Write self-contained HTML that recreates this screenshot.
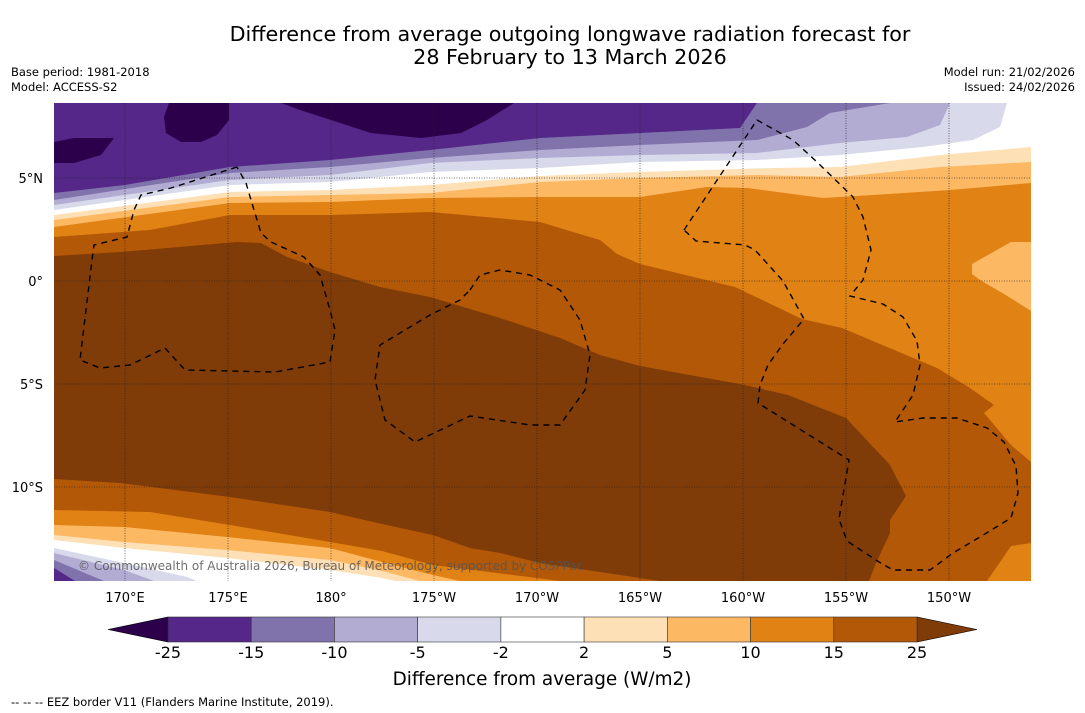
<!DOCTYPE html>
<html><head><meta charset="utf-8"><style>
html,body{margin:0;padding:0;background:#fff;}
body{width:1085px;height:713px;overflow:hidden;font-family:"DejaVu Sans","Liberation Sans",sans-serif;}
svg{display:block;}
</style></head><body>
<svg id="chart" width="1085" height="713" viewBox="0 0 1085 713" xmlns="http://www.w3.org/2000/svg" font-family="DejaVu Sans, Liberation Sans, sans-serif">
<text x="570" y="41" font-size="20.7" text-anchor="middle" fill="#000">Difference from average outgoing longwave radiation forecast for</text>
<text x="570" y="64" font-size="20.7" text-anchor="middle" fill="#000">28 February to 13 March 2026</text>
<text x="11" y="76" font-size="11.5">Base period: 1981-2018</text>
<text x="11" y="91" font-size="11.5">Model: ACCESS-S2</text>
<text x="1075" y="76" font-size="11.5" text-anchor="end">Model run: 21/02/2026</text>
<text x="1075" y="91" font-size="11.5" text-anchor="end">Issued: 24/02/2026</text>
<defs><clipPath id="mapclip"><rect x="54" y="103" width="977" height="478"/></clipPath></defs>
<g id="map" clip-path="url(#mapclip)"></g>
<g id="axes"></g>
<g id="cbar"></g>
<text x="542" y="685" font-size="18.4" text-anchor="middle">Difference from average (W/m2)</text>
<text x="11" y="706" font-size="11.5">--  --  -- EEZ border V11 (Flanders Marine Institute, 2019).</text>
</svg>
<script>
var levels = [-25,-15,-10,-5,-2,2,5,10,15,25];
var bandColors = ["#542788","#8073ac","#b2abd2","#d8daeb","#ffffff","#fee0b6","#fdb863","#e08214","#b35806"];
var underColor = "#2d004b";
var overColor = "#7f3b08";
var lonTicks = ["170°E","175°E","180°","175°W","170°W","165°W","160°W","155°W","150°W"];
var lonValues = [170,175,180,185,190,195,200,205,210];
var latTicks = ["5°N","0°","5°S","10°S"];
var latValues = [5,0,-5,-10];

var NS="http://www.w3.org/2000/svg";
function lonX(l){return 125+(l-170)*20.6;}
function latY(l){return 281-l*20.6;}
function mk(tag,attrs,parent){var e=document.createElementNS(NS,tag);for(var k in attrs)e.setAttribute(k,attrs[k]);parent.appendChild(e);return e;}
function pts(a){return a.map(function(p){return p[0]+","+p[1];}).join(" ");}

var map=document.getElementById('map');
var base=mk('rect',{x:54,y:103,width:977,height:478,fill:bandColors[0]},map);



var blobs=[
 [[54,142],[74,138],[114,138],[101,155],[74,163],[54,163]],
 [[169,103],[229,103],[229,120],[217,135],[201,142],[181,142],[166,133],[164,117]],
 [[281,103],[514,103],[487,120],[461,133],[421,138],[371,133],[331,120],[300,110]]
];
blobs.forEach(function(b){
 var p=mk('polygon',{points:pts(b),fill:underColor},map);
 
 
});

var E=1031,B=581;
var regions=[
 {c:1,top:[[54,193],[125,185],[230,167],[330,160],[430,150],[540,138],[640,133],[740,128],[757,103]],bot:[[75,581],[54,568]]},
 {c:2,top:[[54,200],[230,173],[330,167],[430,158],[540,150],[640,145],[757,140],[807,127],[830,113],[890,103]],bot:[[104,581],[54,560]]},
 {c:3,top:[[54,205],[230,180],[330,175],[430,163],[540,158],[640,155],[757,153],[840,143],[907,137],[940,125],[950,103]],bot:[[154,581],[124,570],[54,553]]},
 {c:4,top:[[54,210],[230,185],[330,182],[430,172],[540,168],[640,162],[757,160],[840,155],[923,147],[973,140],[1000,127],[1007,103]],bot:[[197,581],[187,577],[124,563],[54,548]]},
 {c:5,top:[[54,215],[230,192],[330,190],[430,185],[540,176],[640,172],[773,168],[840,167],[940,155],[1031,147]],bot:[[395,581],[382,578],[330,570],[227,558],[124,548],[54,540]]},
 {c:6,top:[[54,220],[230,197],[330,195],[430,193],[540,182],[640,178],[757,175],[840,177],[940,167],[1031,162]],bot:[[420,581],[382,571],[330,560],[227,550],[124,542],[54,535]]},
 {c:7,top:[[54,227],[230,203],[330,202],[430,198],[540,197],[640,197],[707,187],[747,188],[823,198],[873,195],[950,190],[1031,183]],bot:[[460,581],[433,575],[382,562],[330,548],[227,537],[124,527],[54,525]]}
];
regions.forEach(function(r){
 var poly=r.top.slice();
 var last=poly[poly.length-1];
 if(last[1]===103 && last[0]<E) poly.push([E,103]);
 poly.push([E,B]);
 poly=poly.concat(r.bot);
 var p=mk('polygon',{points:pts(poly),fill:bandColors[r.c]},map);
 
 
});
var r15=[[54,237],[150,230],[230,215],[330,215],[430,212],[540,222],[573,232],[600,240],[617,254],[640,264],[735,287],[802,319],[842,328],[937,368],[970,388],[994,405],[984,413],[1011,445],[1031,462],[1031,543],[1011,546],[987,581],[560,581],[537,578],[433,565],[382,551],[330,542],[230,525],[150,512],[54,510]];
var p15=mk('polygon',{points:pts(r15),fill:bandColors[8]},map);


var r25=[[54,256],[121,252],[237,242],[261,243],[287,257],[330,272],[380,287],[430,297],[500,318],[560,338],[600,355],[640,366],[745,385],[788,395],[846,418],[890,465],[906,496],[890,520],[890,533],[876,563],[869,581],[660,581],[640,578],[600,572],[540,563],[500,553],[470,548],[433,535],[382,524],[330,512],[230,497],[120,483],[54,479]];
var p25=mk('polygon',{points:pts(r25),fill:overColor},map);


var pp=mk('polygon',{points:pts([[972,264],[1011,242],[1031,242],[1031,311],[1004,294],[980,280],[972,274]]),fill:bandColors[6]},map);



lonValues.forEach(function(v){
 var g=mk('line',{x1:lonX(v),x2:lonX(v),y1:103,y2:581,stroke:"#222",'stroke-width':0.8,'stroke-dasharray':'1,1.5','stroke-opacity':0.8},map);
 
 
});
latValues.forEach(function(v){
 var g=mk('line',{x1:54,x2:1031,y1:latY(v),y2:latY(v),stroke:"#222",'stroke-width':0.8,'stroke-dasharray':'1,1.5','stroke-opacity':0.8},map);
 
 
});

var eez=[
 [[237,167],[171,188],[141,195],[134,210],[127,237],[94,245],[92,260],[80,360],[100,368],[130,365],[165,348],[185,370],[275,372],[330,362],[335,330],[330,310],[320,275],[304,257],[271,242],[261,233],[254,210],[246,183],[237,167]],
 [[470,290],[480,275],[500,270],[530,275],[560,290],[580,320],[590,355],[585,390],[560,425],[530,425],[470,416],[415,442],[385,420],[375,380],[380,345],[430,315],[460,300],[470,290]],
 [[684,230],[757,120],[793,140],[817,162],[853,197],[863,217],[871,250],[863,280],[850,296],[883,304],[903,317],[917,341],[920,365],[913,395],[895,422],[923,418],[957,418],[987,428],[1004,442],[1016,466],[1018,493],[1011,518],[980,537],[953,553],[930,570],[893,570],[879,562],[847,541],[839,519],[849,460],[758,403],[760,385],[768,365],[783,344],[804,319],[783,281],[755,250],[745,245],[696,241],[684,230]]
];
eez.forEach(function(e){
 var l=mk('polyline',{points:pts(e),fill:"none",stroke:"#000",'stroke-width':1.4,'stroke-dasharray':'6,5'},map);
 
 
});
var cp=mk('text',{x:78,y:570,'font-size':12,fill:"#555",'fill-opacity':0.85},map);
cp.textContent="© Commonwealth of Australia 2026, Bureau of Meteorology, supported by COSPPac";



var axes=document.getElementById('axes');
lonTicks.forEach(function(t,i){
 var tx=mk('text',{x:lonX(lonValues[i]),y:602,'font-size':13,'text-anchor':'middle'},axes);
 tx.textContent=t;
 
 
});
latTicks.forEach(function(t,i){
 var tx=mk('text',{x:43,y:latY(latValues[i])+5,'font-size':13,'text-anchor':'end'},axes);
 tx.textContent=t;
 
 
});

var cb=document.getElementById('cbar');
var cx0=168,cx1=917,cy0=617,cy1=642;
var step=(cx1-cx0)/(levels.length-1);
function cbX(i){return cx0+i*step;}
var lt=mk('polygon',{points:pts([[108,(cy0+cy1)/2],[cx0,cy0],[cx0,cy1]]),fill:underColor,stroke:"#000",'stroke-width':0.6},cb);


var rt=mk('polygon',{points:pts([[977,(cy0+cy1)/2],[cx1,cy0],[cx1,cy1]]),fill:overColor,stroke:"#000",'stroke-width':0.6},cb);


bandColors.forEach(function(c,i){
 var r=mk('rect',{x:cbX(i),y:cy0,width:step,height:cy1-cy0,fill:c,stroke:"#333",'stroke-width':0.6},cb);
 
 
});
levels.forEach(function(v,i){
 var tx=mk('text',{x:cbX(i),y:658,'font-size':16,'text-anchor':'middle'},cb);
 tx.textContent=String(v);
 
 
});
</script>
</body></html>
